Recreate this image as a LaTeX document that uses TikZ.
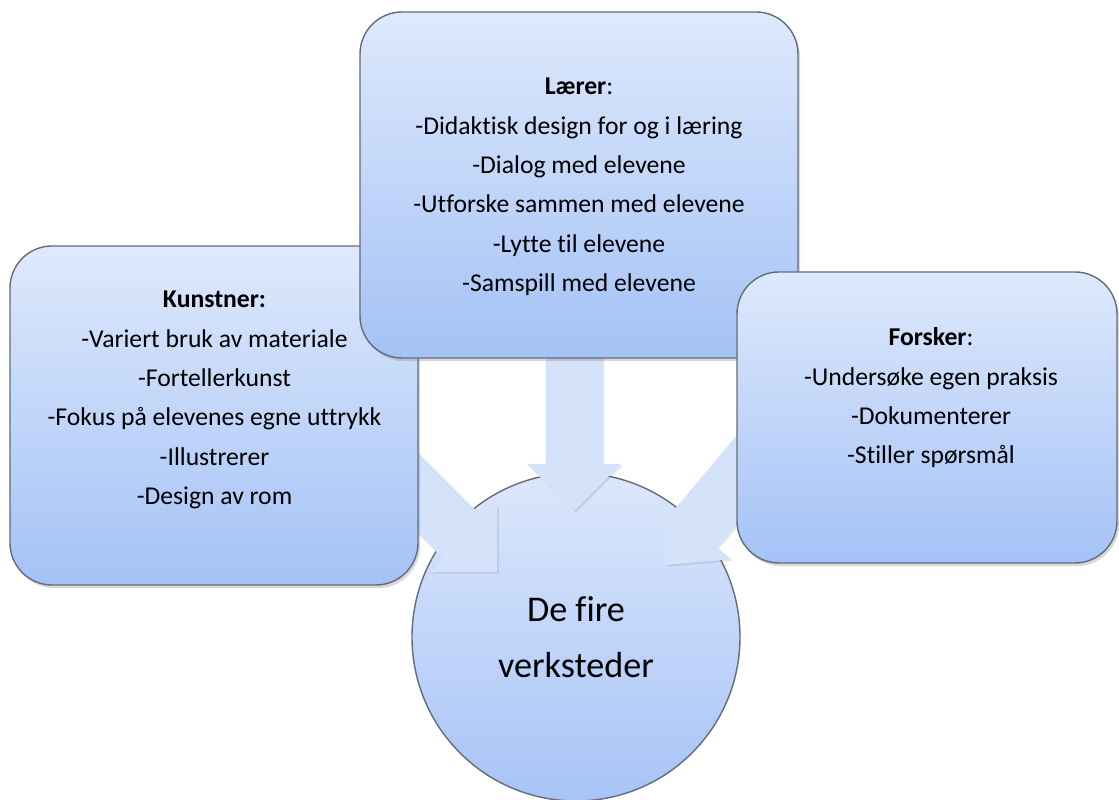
\documentclass[tikz,border=0pt]{standalone}
\usepackage{fontspec}
\setmainfont{Carlito}[Ligatures=NoCommon]
\usetikzlibrary{shadows}

% couleurs des boites, du cercle et des fleches
\definecolor{boksTopp}{RGB}{222,233,252}
\definecolor{boksBunn}{RGB}{164,194,246}
\definecolor{sirkelTopp}{RGB}{220,231,252}
\definecolor{sirkelBunn}{RGB}{167,196,247}
\definecolor{pilFyll}{RGB}{212,226,250}
\definecolor{kant}{RGB}{100,108,122}

\tikzset{
  boks/.style={draw=kant, line width=0.4pt, rounded corners=0.42cm,
    top color=boksTopp, bottom color=boksBunn,
    drop shadow={shadow xshift=0.6pt, shadow yshift=-0.9pt, opacity=0.3}},
  sirkel/.style={circle, draw=kant, line width=0.4pt,
    top color=sirkelTopp, bottom color=sirkelBunn,
    font=\fontsize{10.3}{16}\selectfont, align=center},
  tekst/.style={align=center, font=\fontsize{7.3}{11.2}\selectfont},
  pilfyll/.style={fill=pilFyll,
    drop shadow={shadow xshift=0.5pt, shadow yshift=-0.5pt, opacity=0.2}},
  % fleche large, pointe en (0,0), dirigee vers +x
  pil/.pic={
    \path[pilfyll] (0,0) -- (-0.47,0.47) -- (-0.47,0.285) -- (-2.2,0.285)
      -- (-2.2,-0.285) -- (-0.47,-0.285) -- (-0.47,-0.47) -- cycle;
  }
}

\begin{document}
\begin{tikzpicture}

\useasboundingbox (0,0) rectangle (11.19,8);
\clip (0,0) rectangle (11.19,8);

% cercle central
\node[sirkel, minimum size=3.28cm] (verksted) at (5.76,1.63) {De fire\\verksteder};

% pointes des fleches
\coordinate (spissV) at (4.97,2.28);
\coordinate (spissM) at (5.74,2.89);
\coordinate (spissH) at (6.65,2.35);

\pic[rotate=-45] (pilV) at (spissV) {pil};
\pic[rotate=-90] (pilM) at (spissM) {pil};
\pic[rotate=230] (pilH) at (spissH) {pil};

% les trois boites
\node[boks, minimum width=4.08cm, minimum height=3.39cm] (kunstner) at (2.14,3.845) {};
\node[boks, minimum width=4.38cm, minimum height=3.46cm] (laerer) at (5.79,6.15) {};
\node[boks, minimum width=3.80cm, minimum height=2.91cm] (forsker) at (9.27,3.825) {};

% textes
\node[tekst] (laererTekst) at (5.79,6.13) {\textbf{Lærer}:\\-Didaktisk design for og i læring\\-Dialog med elevene\\-Utforske sammen med elevene\\-Lytte til elevene\\-Samspill med elevene};
\node[tekst] (kunstnerTekst) at (2.145,4.0) {\textbf{Kunstner:}\\-Variert bruk av materiale\\-Fortellerkunst\\-Fokus på elevenes egne uttrykk\\-Illustrerer\\-Design av rom};
\node[tekst] (forskerTekst) at (9.31,4.02) {\textbf{Forsker}:\\-Undersøke egen praksis\\-Dokumenterer\\-Stiller spørsmål};

\end{tikzpicture}
\end{document}
